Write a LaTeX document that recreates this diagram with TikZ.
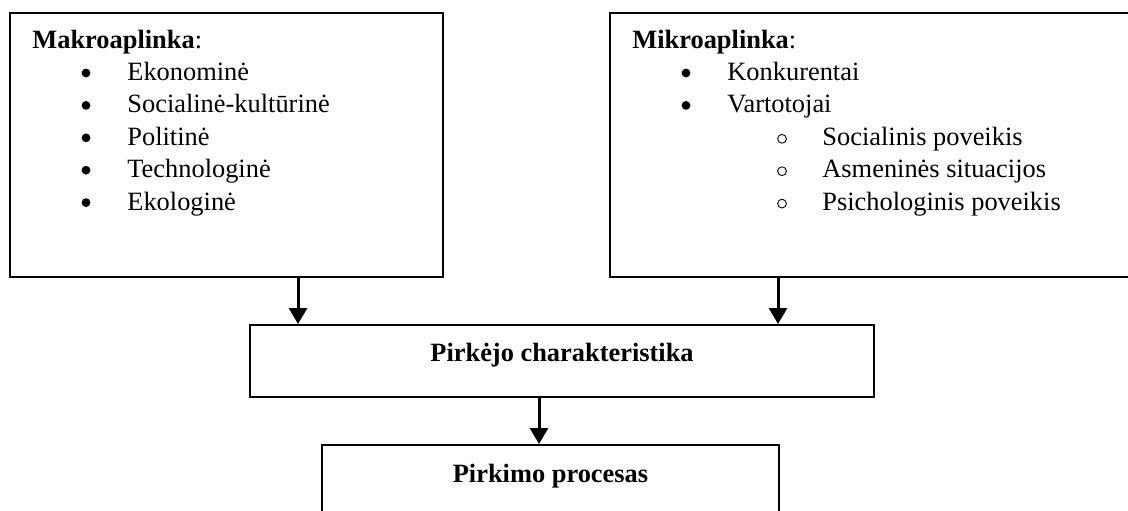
\documentclass[tikz,border=0pt]{standalone}
\usepackage{fontspec}
\setmainfont{Liberation Serif}
\usetikzlibrary{arrows.meta}
\tikzset{
  frame/.style={draw=black, line width=1pt, fill=none, inner sep=0pt},
  arr/.style={draw=black, line width=1.5pt, -{Triangle[width=9pt,length=8pt]}},
  txt/.style={anchor=base west, inner sep=0pt, font=\fontsize{13.2}{16.2}\selectfont},
  ctxt/.style={anchor=base, inner sep=0pt, font=\fontsize{13.2}{16.2}\selectfont\bfseries},
  dot/.style={circle, fill=black, draw=none, inner sep=0pt, minimum size=4.4pt},
  ring/.style={circle, draw=black, line width=0.45pt, inner sep=0pt, minimum size=4.4pt}
}
\begin{document}
\begin{tikzpicture}[x=0.5pt,y=-0.5pt]
  \useasboundingbox (0,0) rectangle (1128,510);

  % boxes
  \node[frame, minimum width=216.5pt, minimum height=132pt] (makro) at (226.5,145) {};
  \node[frame, minimum width=261pt, minimum height=132pt] (mikro) at (871,145) {};
  \node[frame, minimum width=312pt, minimum height=36pt] (pirk) at (562,361) {};
  \node[frame, minimum width=228.5pt, minimum height=45pt] (proc) at (550.5,490) {};

  % left box: macro environment
  \node[txt] (mt) at (32,48) {\textbf{Makroaplinka}:};
  \foreach \i/\t in {0/Ekonominė,1/Socialinė-kultūrinė,2/Politinė,3/Technologinė,4/Ekologinė}{
    \node[dot] (mb\i) at (86,73+32.4*\i) {};
    \node[txt] (mi\i) at (127,80.4+32.4*\i) {\t};
  }

  % right box: micro environment
  \node[txt] (kt) at (632,48) {\textbf{Mikroaplinka}:};
  \foreach \i/\t in {0/Konkurentai,1/Vartotojai}{
    \node[dot] (kb\i) at (686,73+32.4*\i) {};
    \node[txt] (ki\i) at (727,80.4+32.4*\i) {\t};
  }
  \foreach \i/\t in {2/Socialinis poveikis,3/Asmeninės situacijos,4/Psichologinis poveikis}{
    \node[ring] (kc\i) at (782,74+32.4*\i) {};
    \node[txt] (ks\i) at (822,80.4+32.4*\i) {\t};
  }

  % lower boxes text
  \node[ctxt] (pirkt) at (562,361) {Pirkėjo charakteristika};
  \node[ctxt] (proct) at (550.5,482) {Pirkimo procesas};

  % connectors
  \draw[arr] ([xshift=35.75pt]makro.south) -- ([xshift=-132pt]pirk.north);
  \draw[arr] ([xshift=-46.5pt]mikro.south) -- ([xshift=108pt]pirk.north);
  \draw[arr] ([xshift=-11.5pt]pirk.south) -- ([xshift=-5.75pt]proc.north);
\end{tikzpicture}
\end{document}
